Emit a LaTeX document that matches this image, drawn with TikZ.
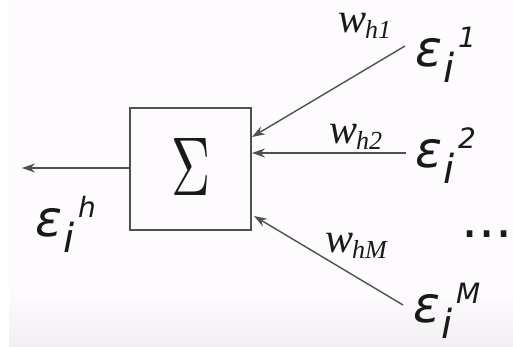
\documentclass[tikz,border=0pt]{standalone}
\usepackage{fontspec}
\setmainfont{DejaVu Sans}
\newfontfamily\wfont{Liberation Serif}
\usetikzlibrary{arrows.meta}
\definecolor{bgpink}{HTML}{FDFBFD}
\definecolor{bgbot}{HTML}{F1EFF2}
\definecolor{linegray}{HTML}{505050}
\newcommand{\epslabel}[1]{{\itshape\fontsize{50}{50}\selectfont ε\hspace{1pt}\raisebox{-16pt}{\fontsize{40}{40}\selectfont i}\hspace{4pt}\raisebox{19pt}{\fontsize{28}{28}\selectfont #1}}}
\newcommand{\wlabel}[1]{{\wfont\itshape\fontsize{42}{42}\selectfont w\hspace{-1pt}\raisebox{-6pt}{\fontsize{26}{26}\selectfont #1}}}
\begin{document}
\begin{tikzpicture}[x=1pt,y=1pt,
  conn/.style={draw=linegray,line width=1.4pt,-{Stealth[length=13pt,width=9pt]}},
  lab/.style={inner sep=0pt,outer sep=0pt,text=black!90}]
\useasboundingbox (0,0) rectangle (513,-347);
\fill[white] (0,0) rectangle (513,-347);
\fill[bgpink] (9,0) rectangle (513,-290);
\shade[top color=bgpink,bottom color=bgbot] (9,-290) rectangle (513,-347);
% box
\node[draw=linegray,line width=1.4pt,minimum width=121pt,minimum height=122pt,inner sep=0pt] (sum) at (190.5,-169) {};
\node[lab] (sigma) at (191.5,-166.5) {\resizebox{39pt}{57pt}{$\Sigma$}};
% free ends
\coordinate (s1) at (405,-46);
\coordinate (s2) at (406,-153);
\coordinate (sM) at (403,-305);
\coordinate (out) at (22,-168);
\coordinate (t1) at (252,-137);
\coordinate (t2) at (252,-153);
\coordinate (tM) at (254,-216);
\draw[conn] (s1) -- (t1);
\draw[conn] (s2) -- (t2);
\draw[conn] (sM) -- (tM);
\draw[conn] (sum.west |- out) -- (out);
% labels
\node[lab,anchor=base west] (e1) at (415,-67) {\epslabel{1}};
\node[lab,anchor=base west] (e2) at (415,-168) {\epslabel{2}};
\node[lab,anchor=base west] (eM) at (413,-322) {\epslabel{M}};
\node[lab,anchor=base west] (eh) at (35,-236) {\epslabel{h}};
\node[lab,anchor=base west] (w1) at (338,-33) {\wlabel{h1}};
\node[lab,anchor=base west] (w2) at (329,-144) {\wlabel{h2}};
\node[lab,anchor=base west] (wM) at (325,-252) {\wlabel{hM}};
\node[lab,anchor=base west] (dots) at (461,-237) {\fontsize{54}{54}\selectfont ...};
\end{tikzpicture}
\end{document}
